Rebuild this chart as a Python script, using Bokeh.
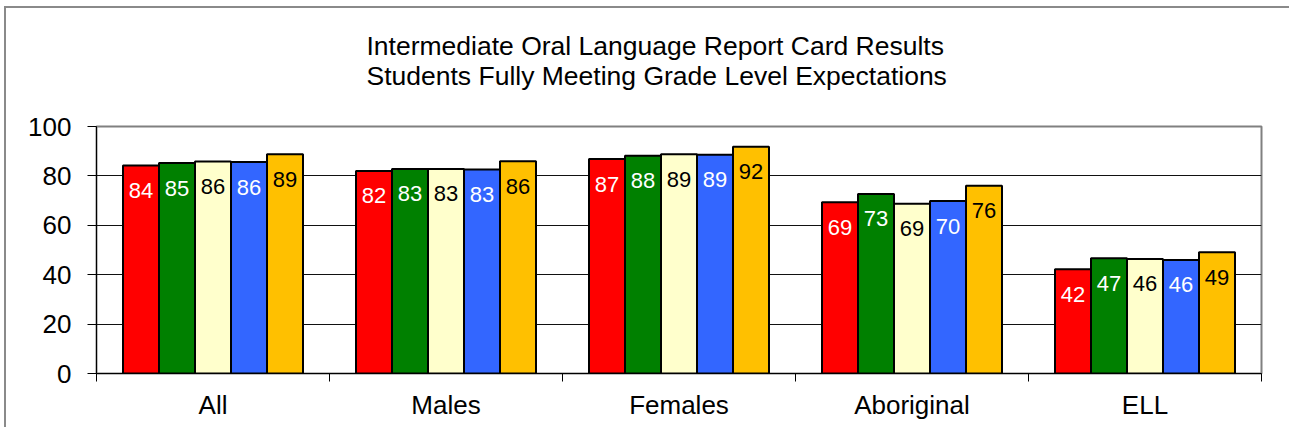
import numpy as np
from bokeh.plotting import figure
from bokeh.models import ColumnDataSource, Range1d, FixedTicker, Title
from bokeh.core.properties import value
from bokeh.embed import file_html
from bokeh.resources import INLINE

categories = ["All", "Males", "Females", "Aboriginal", "ELL"]
series_1 = [84.2, 82.0, 86.8, 69.3, 42.2]
series_2 = [85.2, 82.8, 88.2, 72.7, 46.7]
series_3 = [85.8, 82.8, 88.8, 68.7, 46.4]
series_4 = [85.6, 82.6, 88.6, 69.8, 46.0]
series_5 = [88.8, 85.9, 91.8, 76.0, 49.1]
y_ticks = [0, 20, 40, 60, 80, 100]
title_lines = ["Intermediate Oral Language Report Card Results",
               "Students Fully Meeting Grade Level Expectations"]

series = [series_1, series_2, series_3, series_4, series_5]
fill_colors = ["#FF0000", "#008000", "#FFFFCC", "#3366FF", "#FFC000"]
label_colors = ["white", "white", "black", "white", "black"]

FONT = "Liberation Sans"

p = figure(width=1285, height=421, output_backend="svg", toolbar_location=None,
           x_range=Range1d(0, 5), y_range=Range1d(0, 100),
           min_border_left=90, min_border_right=30, min_border_top=118,
           min_border_bottom=56)
p.title = None
p.styles = {"border-left": "2px solid #8a8a8a", "border-top": "2px solid #8a8a8a",
            "margin-left": "4px", "margin-top": "6px"}

# two-line title; a blank third line lifts the block away from the plot frame
p.add_layout(Title(text="\n".join(title_lines + ["\u00a0"]), align="left", offset=270,
                   standoff=12, text_font=FONT, text_font_size="26.5px",
                   text_font_style="normal", text_line_height=1.0,
                   text_color="black"), "above")

p.outline_line_color = "#808080"
p.outline_line_width = 2
p.background_fill_color = "white"
p.border_fill_color = "white"

n = len(categories)
bar_w = 0.1545
centers = np.arange(n) + 0.5
for j, vals in enumerate(series):
    xs = centers + (j - 2) * bar_w
    src = ColumnDataSource(dict(x=xs, top=vals, label=[f"{v:.0f}" for v in vals]))
    p.vbar(x="x", top="top", bottom=0, width=bar_w, source=src,
           fill_color=fill_colors[j], line_color="black", line_width=2)
    p.text(x="x", y="top", text="label", source=src, text_align="center",
           text_baseline="middle", y_offset=25, text_color=label_colors[j],
           text_font=value(FONT), text_font_size="22px")

# x axis: labels at centers, tick marks at category boundaries
xt = FixedTicker(ticks=list(centers), minor_ticks=list(range(n + 1)))
p.xaxis.ticker = xt
p.xaxis.major_label_overrides = {float(c): cat for c, cat in zip(centers, categories)}
p.xaxis.major_tick_out = 0
p.xaxis.major_tick_in = 0
p.xaxis.minor_tick_out = 8
p.xaxis.minor_tick_in = 0
p.xaxis.minor_tick_line_color = "black"
p.xaxis.axis_line_color = "black"
p.xaxis.major_label_text_font = FONT
p.xaxis.major_label_text_font_size = "26px"
p.xaxis.major_label_text_color = "black"
p.xaxis.major_label_standoff = 8

p.yaxis.ticker = FixedTicker(ticks=y_ticks, minor_ticks=[])
p.yaxis.major_tick_out = 9
p.yaxis.major_tick_in = 0
p.yaxis.major_tick_line_color = "black"
p.yaxis.axis_line_color = "black"
p.yaxis.major_label_text_font = FONT
p.yaxis.major_label_text_font_size = "26px"
p.yaxis.major_label_text_color = "black"
p.yaxis.major_label_standoff = 16

p.xgrid.visible = False
p.ygrid.ticker = FixedTicker(ticks=y_ticks[1:-1], minor_ticks=[])
p.ygrid.grid_line_color = "#111111"
p.ygrid.grid_line_width = 1

open("out.html", "w").write(file_html(p, INLINE))
